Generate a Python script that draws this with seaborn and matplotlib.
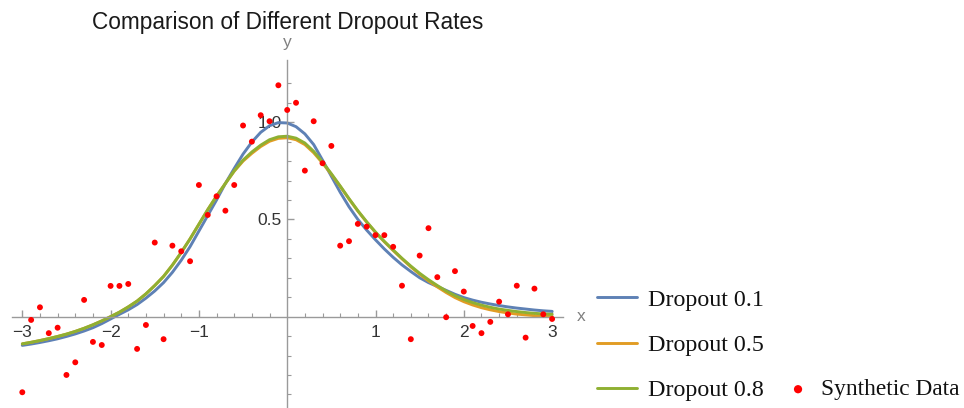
import numpy as np
import pandas as pd
import matplotlib
matplotlib.use("Agg")
import matplotlib.pyplot as plt
import seaborn as sns
from matplotlib.ticker import FixedLocator

# curves (x step 0.1)
curve_x = [round(-3.0 + 0.1 * i, 1) for i in range(61)]
drop_01 = [-0.148, -0.141, -0.133, -0.124, -0.114, -0.102, -0.089, -0.074, -0.057, -0.036,
           -0.012, 0.012, 0.035, 0.062, 0.095, 0.132, 0.175, 0.228, 0.29, 0.36,
           0.44, 0.52, 0.60, 0.685, 0.762, 0.836, 0.898, 0.948, 0.982, 0.998,
           0.996, 0.977, 0.94, 0.885, 0.805, 0.722, 0.64, 0.565, 0.50, 0.445,
           0.395, 0.348, 0.305, 0.266, 0.232, 0.20, 0.175, 0.155, 0.135, 0.115,
           0.098, 0.085, 0.074, 0.065, 0.057, 0.05, 0.044, 0.039, 0.034, 0.03,
           0.027]
drop_05 = [-0.14, -0.132, -0.123, -0.113, -0.102, -0.09, -0.076, -0.06, -0.042, -0.022,
           0.0, 0.023, 0.05, 0.08, 0.117, 0.16, 0.207, 0.265, 0.33, 0.40,
           0.475, 0.55, 0.62, 0.685, 0.748, 0.80, 0.84, 0.875, 0.902, 0.917,
           0.92, 0.91, 0.885, 0.843, 0.79, 0.732, 0.67, 0.605, 0.543, 0.486,
           0.433, 0.385, 0.34, 0.297, 0.256, 0.218, 0.184, 0.153, 0.124, 0.098,
           0.077, 0.06, 0.046, 0.035, 0.026, 0.019, 0.013, 0.009, 0.005, 0.002,
           0.0]
drop_08 = [-0.14, -0.132, -0.123, -0.113, -0.102, -0.09, -0.076, -0.06, -0.042, -0.022,
           0.0, 0.023, 0.05, 0.08, 0.117, 0.16, 0.207, 0.265, 0.33, 0.40,
           0.475, 0.55, 0.62, 0.685, 0.75, 0.805, 0.847, 0.882, 0.91, 0.925,
           0.928, 0.918, 0.893, 0.85, 0.795, 0.735, 0.672, 0.607, 0.545, 0.488,
           0.435, 0.387, 0.343, 0.30, 0.26, 0.223, 0.19, 0.16, 0.132, 0.108,
           0.088, 0.072, 0.059, 0.048, 0.039, 0.032, 0.026, 0.021, 0.017, 0.014,
           0.012]

# synthetic data points
pts_x = [round(-3.0 + 0.1 * i, 1) for i in range(61)]
pts_y = [-0.389, -0.017, 0.048, -0.085, -0.057, -0.30, -0.235, 0.086, -0.130, -0.146,
         0.158, 0.158, 0.168, -0.166, -0.043, 0.381, -0.116, 0.365, 0.336, 0.285,
         0.677, 0.523, 0.619, 0.545, 0.677, 0.983, 0.90, 1.036, 1.005, 1.19,
         1.063, 1.10, 0.751, 1.005, 0.789, 0.878, 0.365, 0.388, 0.477, 0.463,
         0.419, 0.419, 0.359, 0.159, -0.116, 0.314, 0.455, 0.203, -0.003, 0.234,
         0.129, -0.048, -0.085, -0.027, 0.077, 0.012, 0.159, -0.108, 0.144, 0.012,
         -0.012]

labels = ["Dropout 0.1", "Dropout 0.5", "Dropout 0.8"]
colors = ["#5E81B5", "#E19C24", "#8FB032"]

sns.set_style("white")
plt.rcParams['font.family'] = ['Liberation Sans', 'DejaVu Sans']

W, H = 964, 408
fig = plt.figure(figsize=(W / 100, H / 100), dpi=100)
ax = fig.add_axes([11.7 / W, 0, 551 / W, 348 / H])

for ys, lab, c in zip([drop_01, drop_05, drop_08], labels, colors):
    df = pd.DataFrame({"x": curve_x, "y": ys})
    sns.lineplot(data=df, x="x", y="y", ax=ax, color=c, lw=2.1, label=lab)

pts = pd.DataFrame({"x": pts_x, "y": pts_y})
sns.scatterplot(data=pts, x="x", y="y", ax=ax, color="red", s=18, edgecolor="none",
                label="Synthetic Data", zorder=5)

ax.set_xlim(-3.12, 3.12)
ax.set_ylim(-0.47, 1.32)
ax.set_xlabel("")
ax.set_ylabel("")
ax.get_legend().remove()

axis_col = "#9a9a9a"
for s in ["top", "right"]:
    ax.spines[s].set_visible(False)
ax.spines["left"].set_position(("data", 0))
ax.spines["bottom"].set_position(("data", 0))
for s in ["left", "bottom"]:
    ax.spines[s].set_color(axis_col)
    ax.spines[s].set_linewidth(1.0)

ax.xaxis.set_major_locator(FixedLocator([-3, -2, -1, 1, 2, 3]))
ax.xaxis.set_minor_locator(FixedLocator([v / 5 for v in range(-15, 16) if v % 5 != 0]))
ax.yaxis.set_major_locator(FixedLocator([0.5, 1.0]))
ax.yaxis.set_minor_locator(FixedLocator([v / 10 for v in range(-4, 13) if v % 5 != 0]))
ax.set_yticklabels(["0.5", "1.0"])
ax.tick_params(which="both", bottom=True, left=True, direction="in", color=axis_col,
               labelcolor="#333333", labelsize=12.5)
ax.tick_params(which="major", length=5, width=1)
ax.tick_params(which="minor", length=3, width=0.8)
ax.tick_params(axis="x", pad=6)
ax.tick_params(axis="y", pad=4)

ax.text(0, 1.408, "y", color="#808080", fontsize=12.5, ha="center", va="center", clip_on=False)
ax.text(3.33, 0, "x", color="#808080", fontsize=12.5, ha="center", va="center", clip_on=False)

fig.text(288 / W, 1 - 22 / H, "Comparison of Different Dropout Rates", ha="center", va="center",
         fontsize=16.3, color="#1a1a1a")

handles, labs = ax.get_legend_handles_labels()
fig.legend(handles[:3], labs[:3], loc="upper left", bbox_to_anchor=(597 / W, 1 - 289 / H),
           frameon=False, prop={"family": "Liberation Serif", "size": 17.3}, borderpad=0,
           borderaxespad=0, handlelength=1.67, handletextpad=0.46, labelspacing=0.97,
           labelcolor="#111111")
fig.legend(handles[3:], labs[3:], loc="upper left", bbox_to_anchor=(788.7 / W, 1 - 379 / H),
           frameon=False, prop={"family": "Liberation Serif", "size": 16.8}, borderpad=0,
           borderaxespad=0, handlelength=0.8, handletextpad=0.58, markerscale=1.4,
           labelcolor="#111111")

fig.savefig("out.png", dpi=100)
